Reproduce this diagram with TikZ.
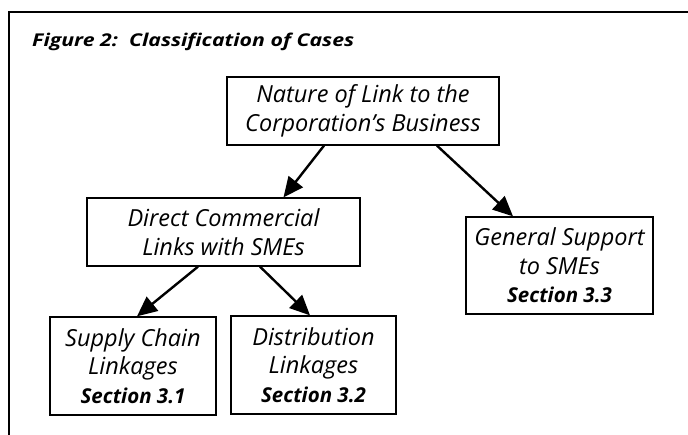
\documentclass[tikz,border=0pt]{standalone}
\usepackage{graphicx}
\usepackage{fontspec}
\setmainfont[Ligatures={TeX,NoCommon}]{Open Sans}
\usetikzlibrary{arrows.meta}
\newcommand{\secfont}{\fontsize{20.5}{28.5}\selectfont\bfseries}
\newcommand{\ttlfont}{\fontsize{18}{20}\selectfont\bfseries\itshape}
\begin{document}
\begin{tikzpicture}[x=1pt,y=-1pt,
  box/.style={draw, line width=1.3pt, align=center, inner sep=0pt,
    font=\fontsize{23.5}{28.5}\selectfont\itshape},
  arr/.style={line width=2.4pt, -{Triangle[length=20pt,width=18pt]}},
  frame/.style={line width=2pt},
  ttlnode/.style={anchor=base west, inner sep=0pt}]
\useasboundingbox (0,0) rectangle (688,435);
\coordinate (fb) at (9,435);
\coordinate (fc) at (9,12);
\coordinate (fr) at (688,12);
\draw[frame] (fb) -- (fc) -- (fr);
\node[ttlnode] (ttl) at (32,47) {\resizebox{322pt}{13.5pt}{\ttlfont Figure 2:\ \ Classification of Cases}};
\node[box, minimum width=272pt, minimum height=68pt] (nature) at (363,111)
  {Nature of Link to the\\Corporation's Business};
\node[box, minimum width=273pt, minimum height=68pt] (direct) at (223.5,232)
  {Direct Commercial\\Links with SMEs};
\node[box, minimum width=187pt, minimum height=97pt] (general) at (559.5,265.5)
  {General Support\\to SMEs\\{\secfont Section 3.3}};
\node[box, minimum width=166pt, minimum height=98pt] (supply) at (133,366)
  {Supply Chain\\Linkages\\{\secfont Section 3.1}};
\node[box, minimum width=165pt, minimum height=98pt] (distrib) at (313.5,365)
  {Distribution\\Linkages\\{\secfont Section 3.2}};
\draw[arr] ([xshift=-39pt]nature.south) -- ([xshift=60pt]direct.north);
\draw[arr] ([xshift=74pt]nature.south) -- ([xshift=-46.5pt]general.north);
\draw[arr] ([xshift=-25.5pt]direct.south) -- ([xshift=4pt]supply.north);
\draw[arr] ([xshift=36.5pt]direct.south) -- ([xshift=-3.5pt]distrib.north);
\end{tikzpicture}
\end{document}
